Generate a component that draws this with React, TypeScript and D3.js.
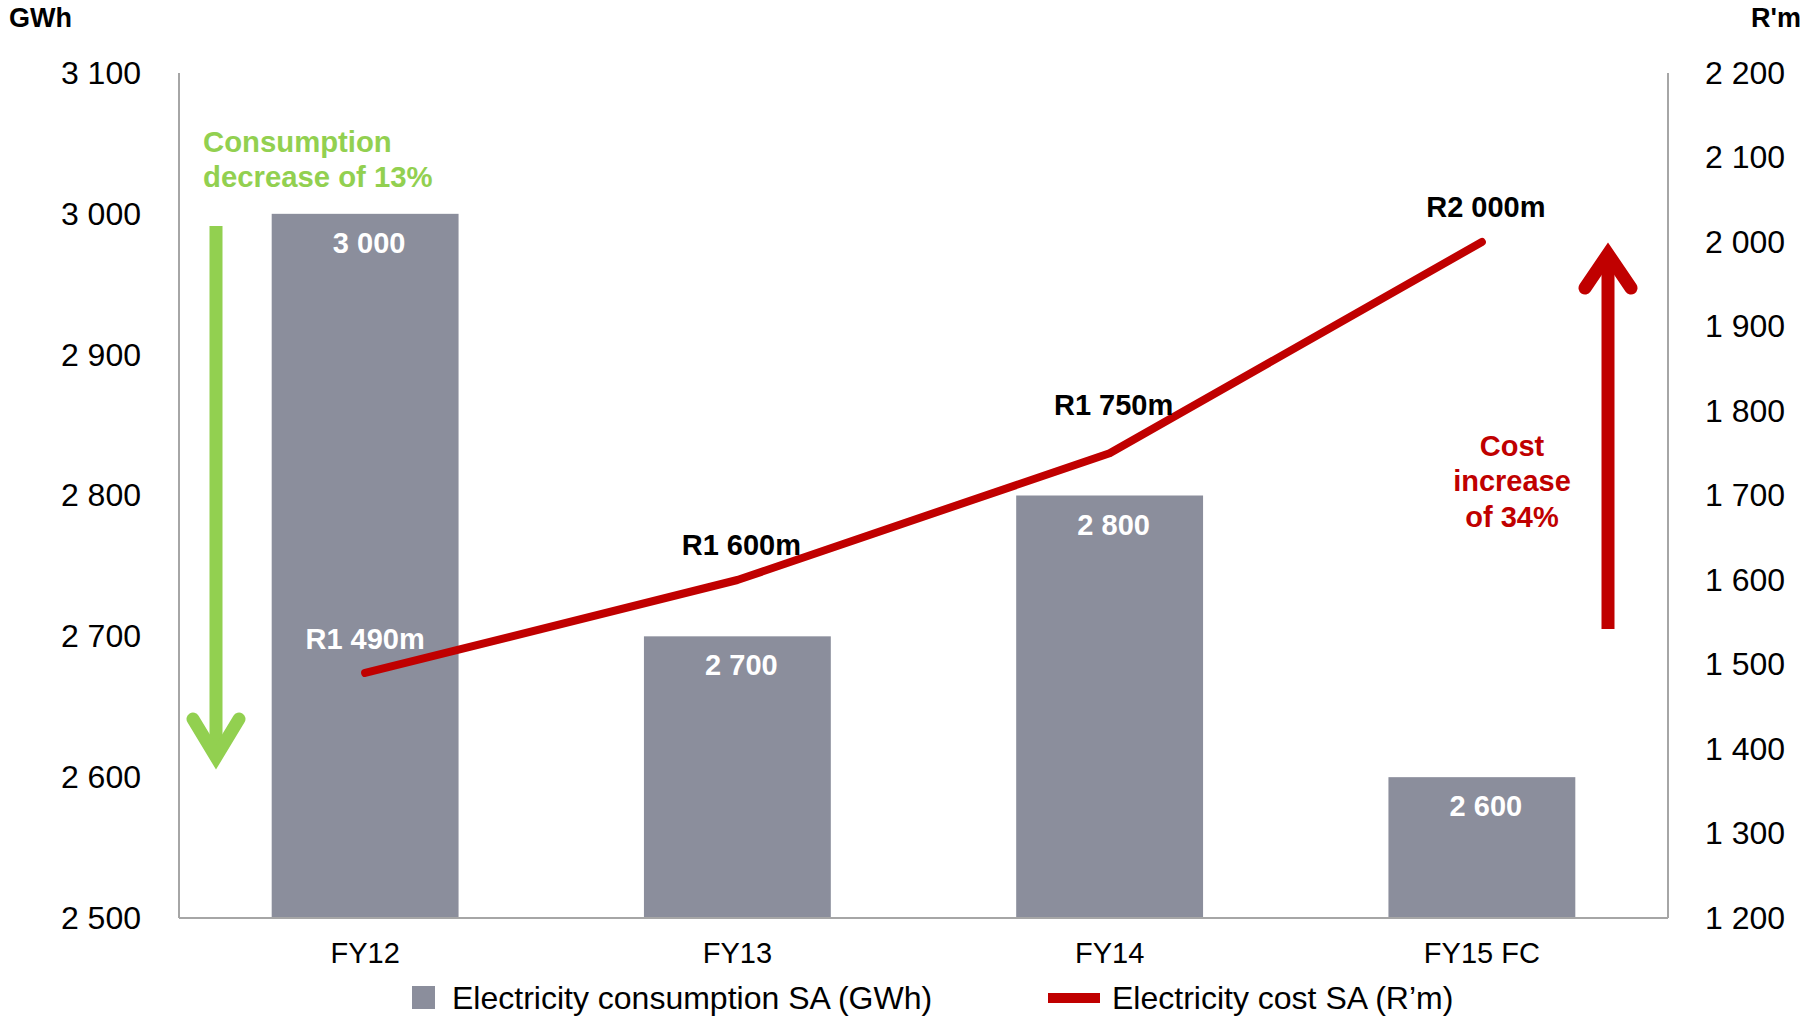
import React from "react";
import * as d3 from "d3";

// Financial years shown along the category axis
const years = ["FY12", "FY13", "FY14", "FY15 FC"];
// Electricity consumption, GWh (bars, left axis)
const consumption = [3000, 2700, 2800, 2600];
// Electricity cost, R million (line, right axis)
const cost = [1490, 1600, 1750, 2000];
const costLabels = ["R1 490m", "R1 600m", "R1 750m", "R2 000m"];
// Axis ticks
const leftTicks = [2500, 2600, 2700, 2800, 2900, 3000, 3100];
const rightTicks = [1200, 1300, 1400, 1500, 1600, 1700, 1800, 1900, 2000, 2100, 2200];

const W = 1816;
const H = 1019;
const FONT = "'Liberation Sans', Arial, Helvetica, sans-serif";
const BAR = "#8B8E9C";
const RED = "#C00000";
const GREEN = "#92D050";
const AXIS = "#A6A6A6";

const fmt = (v: number) => {
  const s = String(v);
  return s.length > 3 ? s.slice(0, s.length - 3) + " " + s.slice(-3) : s;
};

export default function App() {
  const left = 179;
  const right = 1668;
  const top = 73;
  const bottom = 918;

  const x = d3
    .scaleBand<string>()
    .domain(years)
    .range([left, right])
    .paddingInner(0.498)
    .paddingOuter(0.249);
  const yL = d3.scaleLinear().domain([2500, 3100]).range([bottom, top]);
  const yR = d3.scaleLinear().domain([1200, 2200]).range([bottom, top]);

  const cx = (d: string) => (x(d) as number) + x.bandwidth() / 2;

  const line = d3
    .line<number>()
    .x((_, i) => cx(years[i]))
    .y((v) => yR(v));

  // label lift above each line point (the FY14 label sits higher to clear the bar)
  const lift = [24, 25, 38, 25];
  const labelShift = [0, 4, 4, 4];
  const costLabelColor = (i: number) => (i === 0 ? "#FFFFFF" : "#000000");

  return (
    <svg
      width={W}
      height={H}
      style={{ position: "absolute", left: 0, top: 0, background: "#fff" }}
      fontFamily={FONT}
    >
      {/* unit captions */}
      <text x={9} y={27} fontSize={27} fontWeight="bold" fill="#000">
        GWh
      </text>
      <text x={1801} y={27} fontSize={27} fontWeight="bold" fill="#000" textAnchor="end">
        R'm
      </text>

      {/* left axis tick labels */}
      {leftTicks.map((t) => (
        <text key={"l" + t} x={141} y={yL(t)} dy="0.34em" fontSize={32} textAnchor="end" fill="#000">
          {fmt(t)}
        </text>
      ))}
      {/* right axis tick labels */}
      {rightTicks.map((t) => (
        <text key={"r" + t} x={1705} y={yR(t)} dy="0.34em" fontSize={32} textAnchor="start" fill="#000">
          {fmt(t)}
        </text>
      ))}

      {/* bars */}
      {years.map((yr, i) => (
        <rect
          key={"b" + yr}
          x={x(yr)}
          y={yL(consumption[i])}
          width={x.bandwidth()}
          height={bottom - yL(consumption[i])}
          fill={BAR}
        />
      ))}
      {years.map((yr, i) => (
        <text
          key={"bl" + yr}
          x={cx(yr) + 4}
          y={yL(consumption[i]) + 39}
          fontSize={29}
          fontWeight="bold"
          fill="#fff"
          textAnchor="middle"
        >
          {fmt(consumption[i])}
        </text>
      ))}

      {/* axes frame */}
      <line x1={left} x2={left} y1={top} y2={bottom} stroke={AXIS} strokeWidth={2} />
      <line x1={right} x2={right} y1={top} y2={bottom} stroke={AXIS} strokeWidth={2} />
      <line x1={left} x2={right} y1={bottom} y2={bottom} stroke={AXIS} strokeWidth={2} />

      {/* category labels */}
      {years.map((yr) => (
        <text key={"x" + yr} x={cx(yr)} y={963} fontSize={29} textAnchor="middle" fill="#000">
          {yr}
        </text>
      ))}

      {/* cost line */}
      <path
        d={line(cost) as string}
        fill="none"
        stroke={RED}
        strokeWidth={8}
        strokeLinecap="round"
        strokeLinejoin="round"
      />
      {cost.map((v, i) => (
        <text
          key={"cl" + i}
          x={cx(years[i]) + labelShift[i]}
          y={yR(v) - lift[i]}
          fontSize={29}
          fontWeight="bold"
          fill={costLabelColor(i)}
          textAnchor="middle"
        >
          {costLabels[i]}
        </text>
      ))}

      {/* consumption decrease annotation */}
      <text x={203} y={152} fontSize={29.3} fontWeight="bold" fill={GREEN}>
        Consumption
      </text>
      <text x={203} y={187} fontSize={29.3} fontWeight="bold" fill={GREEN}>
        decrease of 13%
      </text>
      <line x1={216} x2={216} y1={226} y2={757} stroke={GREEN} strokeWidth={13} />
      <polyline
        points="193,719 216,757 239,719"
        fill="none"
        stroke={GREEN}
        strokeWidth={13}
        strokeLinecap="round"
        strokeLinejoin="miter"
        strokeMiterlimit={10}
      />

      {/* cost increase annotation */}
      <text x={1512} y={456} fontSize={29} fontWeight="bold" fill={RED} textAnchor="middle">
        Cost
      </text>
      <text x={1512} y={491} fontSize={29} fontWeight="bold" fill={RED} textAnchor="middle">
        increase
      </text>
      <text x={1512} y={527} fontSize={29} fontWeight="bold" fill={RED} textAnchor="middle">
        of 34%
      </text>
      <line x1={1608} x2={1608} y1={629} y2={256} stroke={RED} strokeWidth={13} />
      <polyline
        points="1585,288 1608,254 1631,288"
        fill="none"
        stroke={RED}
        strokeWidth={13}
        strokeLinecap="round"
        strokeLinejoin="miter"
        strokeMiterlimit={10}
      />

      {/* legend */}
      <rect x={412} y={986} width={23} height={23} fill={BAR} />
      <text x={452} y={1009} fontSize={32} fill="#000">
        Electricity consumption SA (GWh)
      </text>
      <rect x={1048} y={993} width={52} height={10} fill={RED} />
      <text x={1112} y={1009} fontSize={32} fill="#000">
        Electricity cost SA (R’m)
      </text>
    </svg>
  );
}
